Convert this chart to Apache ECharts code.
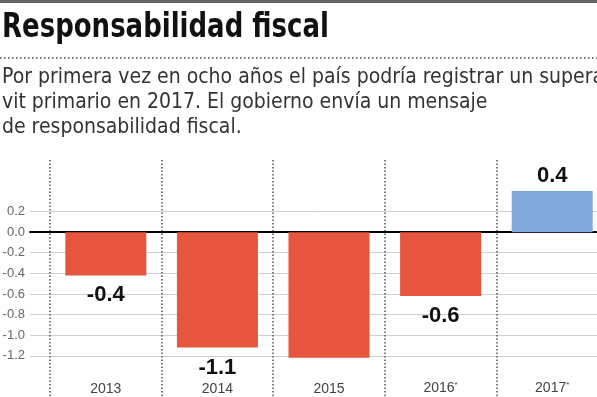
<!DOCTYPE html>
<html>
<head>
<meta charset="utf-8">
<script src="https://cdn.jsdelivr.net/npm/echarts@6/dist/echarts.min.js"></script>
<style>
  html, body { margin: 0; padding: 0; background: #fff; }
  #chart { width: 597px; height: 397px; }
</style>
</head>
<body>
<div id="chart"></div>
<script>
const years = ['2013', '2014', '2015', '2016*', '2017*'];
const values = [-0.42, -1.12, -1.22, -0.62, 0.40];
const valueLabels = ['-0.4', '-1.1', '', '-0.6', '0.4'];
const titleText = 'Responsabilidad fiscal';
const subText = [
  'Por primera vez en ocho años el país podría registrar un superá',
  'vit primario en 2017. El gobierno envía un mensaje',
  'de responsabilidad fiscal.'
];

const RED = '#e8553f';
const BLUE = '#7fa7da';
const NARROW = '"Liberation Sans Narrow", "DejaVu Sans Condensed", sans-serif';
const SANS = '"Liberation Sans", Arial, sans-serif';

const chart = echarts.init(document.getElementById('chart'));

const option = {
  backgroundColor: '#fff',
  animation: false,
  graphic: [
    {
      type: 'rect',
      shape: { x: 0, y: 0, width: 597, height: 3 },
      style: { fill: '#666' }
    },
    {
      type: 'text',
      x: 2,
      y: 11,
      scaleX: 0.85,
      style: {
        text: titleText,
        font: 'bold 34px ' + NARROW,
        fill: '#111',
        verticalAlign: 'top'
      }
    },
    {
      type: 'line',
      shape: { x1: 0, y1: 58, x2: 597, y2: 58 },
      style: { stroke: '#444', lineWidth: 1.5, lineDash: [1.5, 2.5] }
    },
    {
      type: 'text',
      x: 2,
      y: 65,
      style: {
        text: subText.join('\n'),
        font: '21px ' + NARROW,
        lineHeight: 25,
        fill: '#333',
        verticalAlign: 'top'
      }
    }
  ],
  grid: [
    // gridlines + y labels
    { left: 30, right: 0, top: 211.5, height: 144.3, outerBoundsMode: 'none' },
    // bars
    { left: 50, width: 558, top: 160, bottom: 0, outerBoundsMode: 'none' }
  ],
  xAxis: [
    {
      gridIndex: 0,
      type: 'value',
      min: 0,
      max: 1,
      axisLine: { show: true, onZero: true, lineStyle: { color: '#000', width: 2 } },
      axisTick: { show: false },
      axisLabel: { show: false },
      splitLine: { show: false }
    },
    {
      gridIndex: 1,
      type: 'category',
      data: years,
      axisLine: { show: false },
      axisTick: { show: false },
      splitLine: {
        show: true,
        lineStyle: { color: '#555', type: [1.5, 2], width: 1.5 }
      },
      axisLabel: {
        inside: true,
        margin: 1,
        formatter: (v) => {
          const star = v.endsWith('*');
          return star ? '{y|' + v.slice(0, -1) + '}{s|*}' : '{y|' + v + '}';
        },
        rich: {
          y: { fontFamily: SANS, fontSize: 14, color: '#444' },
          s: { fontFamily: SANS, fontSize: 8, color: '#444', padding: [0, 0, 7, 0] }
        }
      }
    }
  ],
  yAxis: [
    {
      gridIndex: 0,
      type: 'value',
      min: -1.2,
      max: 0.2,
      interval: 0.2,
      axisLine: { show: false },
      axisTick: { show: false },
      axisLabel: {
        margin: 5,
        fontFamily: SANS,
        fontSize: 13,
        color: '#666',
        formatter: (v) => v.toFixed(1)
      },
      splitLine: { show: true, lineStyle: { color: '#d0d0d0', width: 1 } }
    },
    {
      gridIndex: 1,
      type: 'value',
      min: -1.6,
      max: 0.7,
      show: false,
      splitLine: { show: false }
    }
  ],
  series: [
    {
      type: 'bar',
      xAxisIndex: 1,
      yAxisIndex: 1,
      barWidth: 81,
      data: values.map((v, i) => ({
        value: v,
        itemStyle: { color: v < 0 ? RED : BLUE },
        label: {
          show: valueLabels[i] !== '',
          position: v < 0 ? 'bottom' : 'top',
          distance: v < 0 ? 9 : 4,
          formatter: valueLabels[i]
        }
      })),
      label: {
        fontFamily: SANS,
        fontWeight: 'bold',
        fontSize: 22,
        color: '#111'
      }
    }
  ]
};

chart.setOption(option);
</script>
</body>
</html>
